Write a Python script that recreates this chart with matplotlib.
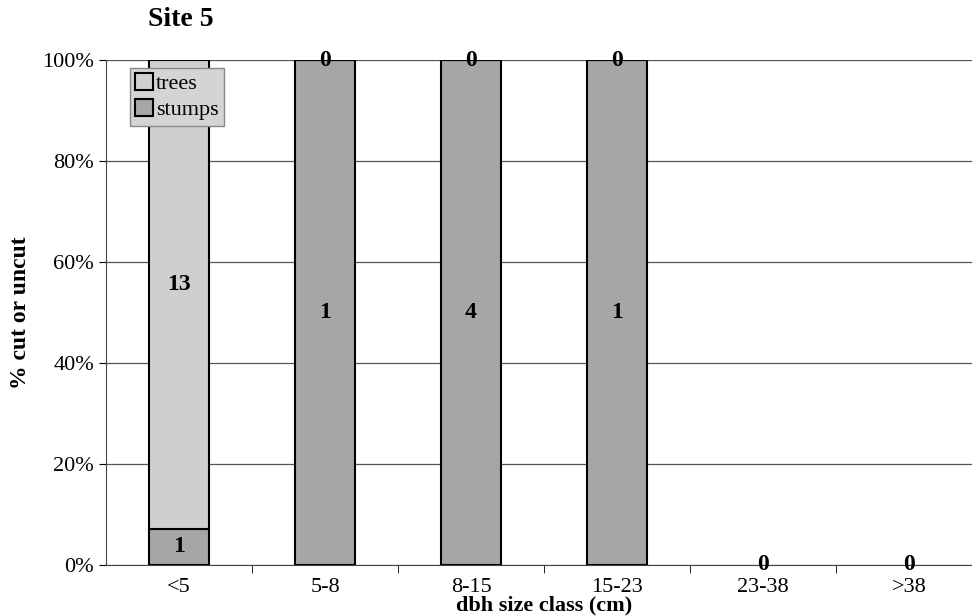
import numpy as np
import matplotlib.pyplot as plt

# data
classes = ['<5', '5-8', '8-15', '15-23', '23-38', '>38']
stumps = np.array([1, 1, 4, 1, 0, 0])
trees = np.array([13, 0, 0, 0, 0, 0])

total = stumps + trees
safe = np.where(total == 0, 1, total)
stumps_pct = np.where(total == 0, 0, stumps / safe * 100)
trees_pct = np.where(total == 0, 0, trees / safe * 100)

plt.rcParams['font.family'] = ['Liberation Serif', 'DejaVu Serif']

fig = plt.figure(figsize=(9.72, 6.16), dpi=100)
ax = fig.add_axes([106/972, 51/616, 876/972, 505/616])

x = np.arange(len(classes))
w = 0.41
has = total > 0
ax.bar(x[has], stumps_pct[has], w, color='#a6a6a6', edgecolor='black',
       linewidth=1.5, label='stumps', zorder=3)
ax.bar(x[has], trees_pct[has], w, bottom=stumps_pct[has], color='#cfcfcf',
       edgecolor='black', linewidth=1.5, label='trees', zorder=3)

# count labels
lab = dict(ha='center', va='center', fontsize=17, fontweight='bold', zorder=5)
for i in range(len(classes)):
    if total[i] == 0:
        ax.text(x[i], 0, '0', **lab)
        continue
    if stumps[i] > 0:
        ax.text(x[i], stumps_pct[i] / 2, str(stumps[i]), **lab)
    if trees[i] > 0:
        ax.text(x[i], stumps_pct[i] + trees_pct[i] / 2 + 2, str(trees[i]), **lab)
    else:
        ax.text(x[i], 100, '0', **lab)

ax.set_xlim(-0.5, 5.5)
ax.set_ylim(0, 100)
ax.set_yticks(np.arange(0, 101, 20))
ax.set_yticklabels([f'{v}%' for v in range(0, 101, 20)], fontsize=16)
ax.set_xticks(x)
ax.set_xticklabels(classes, fontsize=16)
ax.tick_params(axis='x', length=0, pad=9)
ax.set_xticks(np.arange(0.5, 5.5, 1), minor=True)
ax.tick_params(axis='x', which='minor', length=6, direction='out')
ax.tick_params(axis='y', length=5, direction='out')
ax.grid(axis='y', color='#555555', linewidth=0.9, zorder=0)

for s in ['top', 'right']:
    ax.spines[s].set_visible(False)
ax.spines['left'].set_color('#444444')
ax.spines['bottom'].set_color('#444444')

ax.set_xlabel('dbh size class (cm)', fontsize=16, fontweight='bold')
ax.xaxis.set_label_coords(0.5, -0.06)
ax.set_ylabel('% cut or uncut', fontsize=17, fontweight='bold', labelpad=8)
fig.text(148/972, 1 - 20/616, 'Site 5', fontsize=20, fontweight='bold',
         ha='left', va='center')

handles, labels = ax.get_legend_handles_labels()
leg = ax.legend(handles[::-1], labels[::-1], loc='upper left',
                bbox_to_anchor=(0.027, 0.985), fontsize=16, frameon=True,
                fancybox=False, framealpha=1, handlelength=0.8, handleheight=0.8,
                handletextpad=0.15, borderpad=0.25, labelspacing=0.2,
                borderaxespad=0)
leg.get_frame().set_facecolor('#d4d4d4')
leg.get_frame().set_edgecolor('#888888')
leg.set_zorder(6)

fig.savefig('out.png', dpi=100)
